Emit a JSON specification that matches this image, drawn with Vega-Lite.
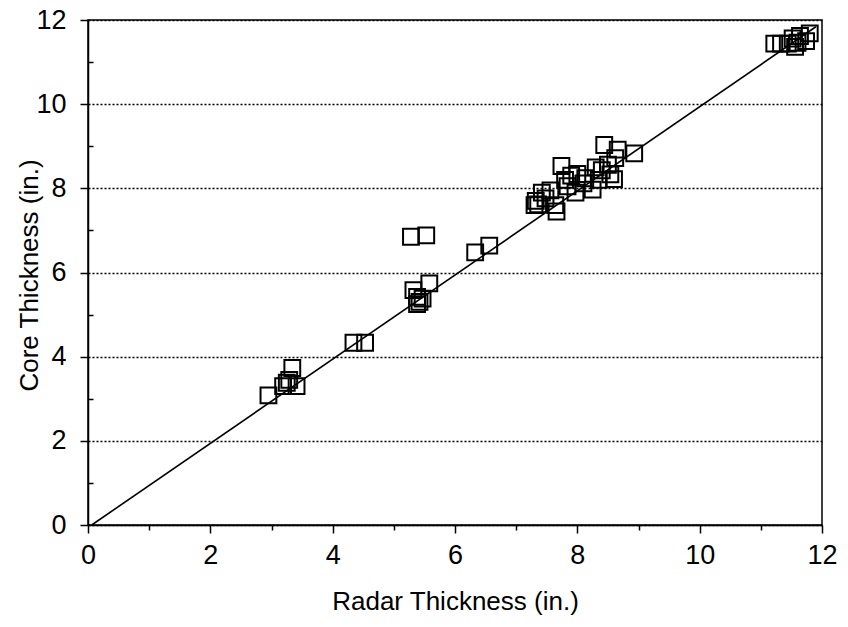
{
  "$schema": "https://vega.github.io/schema/vega-lite/v6.json",
  "autosize": "none",
  "width": 734,
  "height": 505,
  "padding": {"left": 88, "top": 20, "right": 26, "bottom": 102},
  "background": "white",
  "config": {
    "view": {"stroke": "black", "strokeWidth": 1.5},
    "axis": {
      "domainColor": "black", "domainWidth": 1.5,
      "tickColor": "black", "tickWidth": 1.5,
      "labelColor": "black", "titleColor": "black",
      "labelFont": "Liberation Sans", "titleFont": "Liberation Sans",
      "labelFontSize": 27, "titleFontSize": 26, "titleFontWeight": "normal"
    }
  },
  "datasets": {
    "pts": [
      {"radar": 2.95, "core": 3.08},
      {"radar": 3.19, "core": 3.3},
      {"radar": 3.25, "core": 3.38},
      {"radar": 3.29, "core": 3.45},
      {"radar": 3.41, "core": 3.3},
      {"radar": 3.34, "core": 3.73},
      {"radar": 4.34, "core": 4.33},
      {"radar": 4.53, "core": 4.33},
      {"radar": 5.28, "core": 6.85},
      {"radar": 5.53, "core": 6.88},
      {"radar": 5.32, "core": 5.58},
      {"radar": 5.58, "core": 5.74},
      {"radar": 5.38, "core": 5.42},
      {"radar": 5.47, "core": 5.38},
      {"radar": 5.38, "core": 5.25},
      {"radar": 5.42, "core": 5.3},
      {"radar": 6.33, "core": 6.48},
      {"radar": 6.56, "core": 6.64},
      {"radar": 7.3, "core": 7.6},
      {"radar": 7.32, "core": 7.7},
      {"radar": 7.36, "core": 7.62},
      {"radar": 7.42, "core": 7.9},
      {"radar": 7.48, "core": 7.76},
      {"radar": 7.56, "core": 7.95},
      {"radar": 7.66, "core": 7.45},
      {"radar": 7.64, "core": 7.6},
      {"radar": 7.74, "core": 8.53},
      {"radar": 7.8, "core": 8.2},
      {"radar": 7.84, "core": 8.05},
      {"radar": 7.9, "core": 8.3},
      {"radar": 7.97, "core": 7.9},
      {"radar": 8.0, "core": 8.34},
      {"radar": 8.1, "core": 8.12},
      {"radar": 8.13, "core": 8.24},
      {"radar": 8.25, "core": 7.97},
      {"radar": 8.3, "core": 8.5},
      {"radar": 8.35, "core": 8.2},
      {"radar": 8.4, "core": 8.43},
      {"radar": 8.5, "core": 8.56},
      {"radar": 8.54, "core": 8.33},
      {"radar": 8.6, "core": 8.22},
      {"radar": 8.44, "core": 9.03},
      {"radar": 8.66, "core": 8.92},
      {"radar": 8.62, "core": 8.72},
      {"radar": 8.93, "core": 8.83},
      {"radar": 11.22, "core": 11.44},
      {"radar": 11.33, "core": 11.44},
      {"radar": 11.44, "core": 11.44},
      {"radar": 11.52, "core": 11.56},
      {"radar": 11.56, "core": 11.36},
      {"radar": 11.6, "core": 11.46},
      {"radar": 11.64, "core": 11.62},
      {"radar": 11.74, "core": 11.5},
      {"radar": 11.8, "core": 11.68}
    ],
    "diag": [
      {"radar": 0.06, "core": 0.0},
      {"radar": 11.9, "core": 11.84}
    ]
  },
  "resolve": {"axis": {"x": "independent", "y": "independent"}},
  "layer": [
    {
      "data": {"name": "diag"},
      "mark": {"type": "line", "color": "black", "strokeWidth": 1.6},
      "encoding": {
        "x": {
          "field": "radar", "type": "quantitative",
          "scale": {"domain": [0, 12], "nice": false},
          "axis": {
            "orient": "bottom",
            "values": [0, 2, 4, 6, 8, 10, 12],
            "tickSize": 8, "labelPadding": 9,
            "title": "Radar Thickness (in.)", "titlePadding": 20,
            "grid": false, "labelFlush": false
          }
        },
        "y": {
          "field": "core", "type": "quantitative",
          "scale": {"domain": [0, 12], "nice": false},
          "axis": {
            "orient": "left",
            "values": [0, 2, 4, 6, 8, 10, 12],
            "tickSize": 8, "labelPadding": 14,
            "title": "Core Thickness (in.)",
            "titleX": -59, "titleY": 255, "titleAngle": -90,
            "titleBaseline": "middle", "titleAlign": "center",
            "grid": true, "gridColor": "black", "gridDash": [2, 2],
            "gridWidth": 1.3, "gridOpacity": 1, "labelFlush": false
          }
        }
      }
    },
    {
      "data": {"name": "pts"},
      "mark": {"type": "point", "shape": "square", "size": 250, "filled": false, "stroke": "black", "strokeWidth": 2, "opacity": 1},
      "encoding": {
        "x": {
          "field": "radar", "type": "quantitative",
          "axis": {
            "orient": "bottom",
            "values": [1, 3, 5, 7, 9, 11],
            "tickSize": 5, "labels": false, "domain": false,
            "title": null, "grid": false
          }
        },
        "y": {
          "field": "core", "type": "quantitative",
          "axis": {
            "orient": "left",
            "values": [1, 3, 5, 7, 9, 11],
            "tickSize": -5, "labels": false, "domain": false,
            "title": null, "grid": false
          }
        }
      }
    }
  ]
}
